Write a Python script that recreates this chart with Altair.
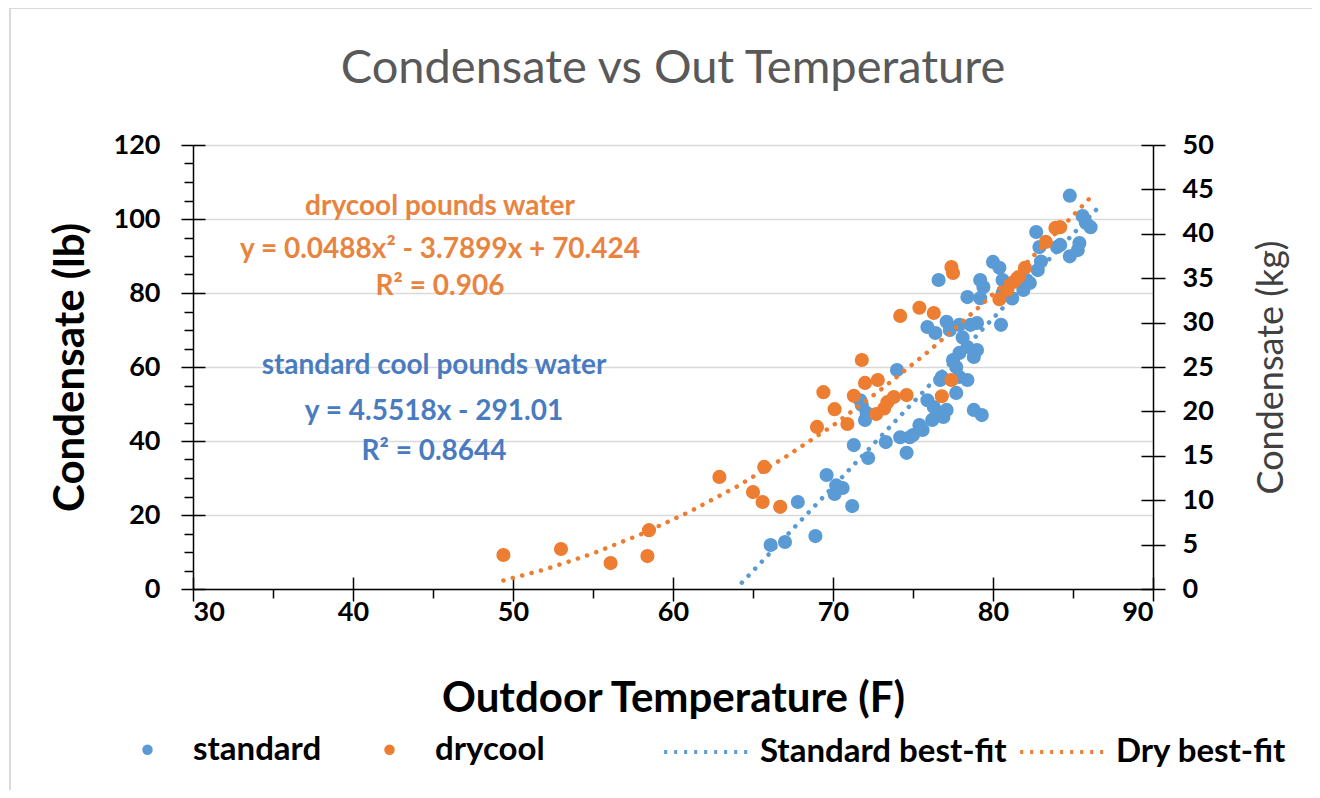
import altair as alt
import pandas as pd

BLUE = "#5B9BD5"
ORANGE = "#ED7D31"
FONT = "Lato"

# ---- data ----
std_temp = [66.1, 67.0, 67.8, 68.9, 69.6, 70.2, 70.1, 70.6, 71.2, 71.3, 71.7, 71.8, 72.0, 72.2, 72.1,
            73.3, 74.0, 74.2, 74.6, 74.8, 75.0, 75.6, 75.9, 76.2, 76.3, 76.7, 77.1, 76.9, 76.8, 76.7,
            77.5, 77.7, 77.9, 78.4, 78.8, 79.0, 77.9, 78.4, 77.7, 78.8, 79.3, 75.9, 76.4, 77.1, 77.3,
            77.9, 78.1, 78.6, 79.0, 78.4, 79.2, 76.6, 79.2, 79.4, 80.0, 80.4, 80.6, 80.6, 80.5, 81.9,
            82.1, 82.3, 82.8, 82.7, 82.9, 84.0, 84.2, 84.8, 85.6, 85.8, 86.1, 85.4, 85.3, 84.8, 75.4,
            83.0, 81.2]
std_lb = [11.9, 12.7, 23.5, 14.3, 30.8, 28.0, 25.7, 27.3, 22.4, 38.9, 51.0, 49.7, 45.7, 35.4, 47.6,
          39.7, 59.2, 41.0, 36.8, 41.0, 41.6, 43.0, 51.0, 45.7, 49.2, 47.6, 48.4, 46.5, 57.3, 56.5,
          61.9, 60.0, 63.8, 65.4, 62.7, 64.6, 57.3, 56.5, 53.0, 48.4, 47.0, 70.8, 69.2, 72.2, 70.0,
          71.4, 68.0, 71.4, 71.9, 78.9, 83.5, 83.5, 78.6, 81.6, 88.4, 86.8, 83.5, 80.0, 71.4, 80.8,
          83.5, 82.7, 86.2, 96.5, 92.4, 92.4, 93.0, 106.3, 100.8, 99.0, 97.8, 93.5, 91.6, 89.9, 44.3,
          88.5, 78.5]

dry_temp = [49.4, 53.0, 56.1, 58.4, 58.5, 62.9, 65.0, 65.6, 65.7, 66.7, 69.0, 69.4, 70.1, 70.9, 71.3,
            71.8, 72.0, 72.8, 72.7, 73.2, 73.4, 73.8, 74.6, 74.2, 75.4, 76.3, 77.4, 77.5, 77.4, 76.8,
            80.4, 80.9, 81.6, 82.0, 83.3, 83.9, 84.2, 81.3]
dry_lb = [9.2, 10.8, 7.0, 8.9, 15.9, 30.3, 26.2, 23.5, 33.0, 22.2, 43.8, 53.2, 48.6, 44.6, 52.2,
          61.9, 55.7, 56.5, 47.3, 48.8, 50.5, 51.9, 52.4, 73.8, 76.0, 74.6, 87.0, 85.4, 56.5, 52.1,
          78.3, 80.8, 84.3, 86.8, 93.8, 97.6, 97.8, 83.0]

std_fit_x = [64.3, 86.8]
std_fit_y = [1.7, 104.1]
dry_fit_x = [49.4, 52, 55, 58, 61, 64, 67, 70, 73, 76, 79, 82, 85, 86.2]
dry_fit_y = [2.3, 5.3, 9.6, 14.8, 20.8, 27.7, 35.6, 44.2, 53.9, 64.3, 75.7, 87.7, 100.9, 106.3]

series_names = ["standard", "drycool"]
fit_names = ["Standard best-fit", "Dry best-fit"]

x_ticks = [30, 40, 50, 60, 70, 80, 90]
x_minor = [35, 45, 55, 65, 75, 85]
y_ticks = [0, 20, 40, 60, 80, 100, 120]
y_minor = [5, 10, 15, 25, 30, 35, 45, 50, 55, 65, 70, 75, 85, 90, 95, 105, 110, 115]
kg_ticks = [0, 5, 10, 15, 20, 25, 30, 35, 40, 45, 50]

dry_label = ["drycool pounds water", "y = 0.0488x²  - 3.7899x  + 70.424", "R² = 0.906"]
std_label = ["standard  cool pounds water", "y = 4.5518x  - 291.01", "R² = 0.8644"]

# ---- tables ----
pts = pd.concat([
    pd.DataFrame({"temp": std_temp, "lb": std_lb, "series": "standard", "ord": 0}),
    pd.DataFrame({"temp": dry_temp, "lb": dry_lb, "series": "drycool", "ord": 1}),
], ignore_index=True)
fits = pd.concat([
    pd.DataFrame({"temp": std_fit_x, "lb": std_fit_y, "fit": "Standard best-fit"}),
    pd.DataFrame({"temp": dry_fit_x, "lb": dry_fit_y, "fit": "Dry best-fit"}),
], ignore_index=True)
one = pd.DataFrame({"v": [0]})

xs = alt.Scale(domain=[30, 90], nice=False, zero=False)
ys = alt.Scale(domain=[0, 120], nice=False)
kgs = alt.Scale(domain=[0, 50], nice=False)

lab = dict(labelFont=FONT, labelFontSize=27, labelFontWeight="bold", labelColor="black")
tk = dict(tickColor="black", tickWidth=1.5, labels=False, domain=False, grid=False, title=None)

# border of the chart area
border = alt.Chart(one).mark_rect(fillOpacity=0, stroke="#D9D9D9", strokeWidth=2).encode(
    x=alt.value(-183), x2=alt.value(1130), y=alt.value(-137), y2=alt.value(660))

# main axes + grid
axes_main = alt.Chart(one).mark_point(opacity=0).encode(
    x=alt.X("v:Q", scale=xs, axis=alt.Axis(
        orient="bottom", values=x_ticks, ticks=False, grid=False, domainColor="black",
        domainWidth=1.5, labelPadding=10, title="Outdoor Temperature (F)", titleFont=FONT,
        titleFontSize=42, titleFontWeight="bold", titleColor="black", titlePadding=53, **lab)),
    y=alt.Y("v:Q", scale=ys, axis=alt.Axis(
        orient="left", values=y_ticks, ticks=False, grid=True, gridColor="#D9D9D9", gridWidth=1.5,
        domainColor="black", domainWidth=1.5, labelPadding=33, title="Condensate (lb)",
        titleFont=FONT, titleFontSize=42, titleFontWeight="bold", titleColor="black",
        titlePadding=21, **lab)),
)
right_domain = alt.Chart(one).mark_point(opacity=0).encode(
    y=alt.Y("v:Q", scale=ys, axis=alt.Axis(orient="right", values=y_ticks, ticks=False,
            labels=False, grid=False, domainColor="black", domainWidth=1.5, title=None)))
x_cross = alt.Chart(one).mark_point(opacity=0).encode(
    x=alt.X("v:Q", scale=xs, axis=alt.Axis(orient="bottom", values=x_ticks, tickSize=24,
            offset=-12, **tk)))
x_min = alt.Chart(one).mark_point(opacity=0).encode(
    x=alt.X("v:Q", scale=xs, axis=alt.Axis(orient="bottom", values=x_minor, tickSize=9, **tk)))
y_cross = alt.Chart(one).mark_point(opacity=0).encode(
    y=alt.Y("v:Q", scale=ys, axis=alt.Axis(orient="left", values=y_ticks, tickSize=24,
            offset=-12, **tk)))
y_min = alt.Chart(one).mark_point(opacity=0).encode(
    y=alt.Y("v:Q", scale=ys, axis=alt.Axis(orient="left", values=y_minor, tickSize=9, **tk)))

points = alt.Chart(pts).mark_circle(size=200, opacity=1).encode(
    x=alt.X("temp:Q", scale=xs, axis=None),
    y=alt.Y("lb:Q", scale=ys, axis=None),
    color=alt.Color("series:N", scale=alt.Scale(domain=series_names, range=[BLUE, ORANGE]),
                    legend=alt.Legend(orient="none", legendX=-62, legendY=588, direction="horizontal",
                                      title=None, symbolType="circle", symbolSize=110,
                                      labelOffset=29, columnPadding=51, labelFont=FONT,
                                      labelFontSize=33, labelFontWeight="bold", labelColor="black",
                                      labelLimit=400)),
    order=alt.Order("ord:Q"),
)

lines = alt.Chart(fits).mark_line(strokeWidth=4.5, strokeDash=[0.1, 9.6], strokeCap="round").encode(
    x=alt.X("temp:Q", scale=xs, axis=None),
    y=alt.Y("lb:Q", scale=ys, axis=None),
    detail="fit:N",
    stroke=alt.Stroke("fit:N", scale=alt.Scale(domain=fit_names, range=[BLUE, ORANGE]),
                      legend=alt.Legend(orient="none", legendX=469, legendY=563, direction="horizontal",
                                        title=None, symbolType="stroke", symbolSize=7000,
                                        symbolStrokeWidth=4, symbolDash=[3, 7], labelOffset=10,
                                        columnPadding=5, labelFont=FONT, labelFontSize=33,
                                        labelFontWeight="bold", labelColor="black", labelLimit=400)),
)

texts = []
for t, yy in zip(dry_label, [62, 105, 142]):
    texts.append(alt.Chart(pd.DataFrame({"t": [t]})).mark_text(
        font=FONT, fontSize=28, fontWeight="bold", color="#E8843F", align="center", baseline="middle"
    ).encode(text="t:N", x=alt.value(247), y=alt.value(yy)))
for t, yy in zip(std_label, [221, 267, 307]):
    texts.append(alt.Chart(pd.DataFrame({"t": [t]})).mark_text(
        font=FONT, fontSize=28, fontWeight="bold", color="#4A7BC0", align="center", baseline="middle"
    ).encode(text="t:N", x=alt.value(241), y=alt.value(yy)))

kg_axis = alt.Chart(one).mark_point(opacity=0).encode(
    y=alt.Y("v:Q", scale=kgs, axis=alt.Axis(orient="right", values=kg_ticks, tickSize=24, offset=-12,
            domain=False, grid=False, tickColor="black", tickWidth=1.5, labelPadding=17,
            title="Condensate  (kg)", titleFont=FONT, titleFontSize=36, titleFontWeight="normal",
            titleColor="#404040", titleAngle=270, titlePadding=77, **lab)))

lb_group = alt.layer(border, axes_main, right_domain, x_cross, x_min, y_cross, y_min,
                     points, lines, *texts).resolve_axis(x="independent", y="independent")

chart = alt.layer(lb_group, kg_axis).resolve_scale(y="independent").properties(
    width=960, height=444,
    title=alt.TitleParams("Condensate vs Out Temperature", font=FONT, fontSize=47,
                          fontWeight="normal", color="#595959", anchor="middle", frame="group",
                          offset=-86),
    autosize=alt.AutoSizeParams(type="none"),
    padding={"left": 185, "top": 137, "right": 159, "bottom": 201},
).configure_view(stroke=None).configure(background="white")

chart.save("out.html", embed_options={"renderer": "svg", "actions": False})
